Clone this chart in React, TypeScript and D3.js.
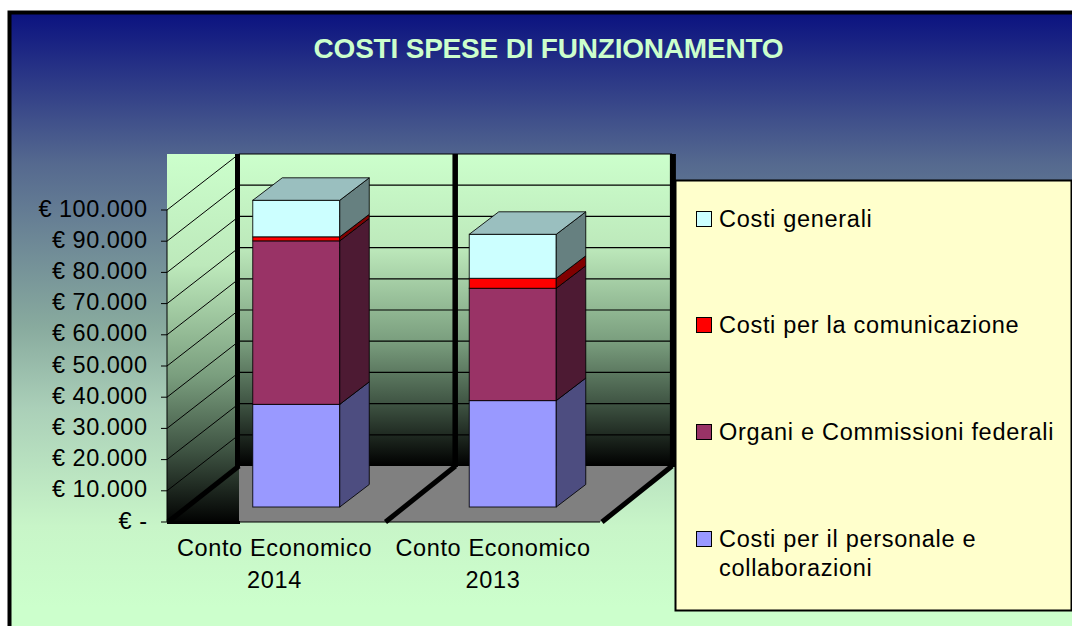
import React from 'react';
import * as d3 from 'd3';

const categories = ['2014', '2013'];
const categoryLines = [['Conto Economico', '2014'], ['Conto Economico', '2013']];
const seriesNames = ['Costi per il personale e', 'Organi e Commissioni federali', 'Costi per la comunicazione', 'Costi generali'];
const personale = [32900, 34100];
const organi = [52400, 36000];
const comunicazione = [1300, 3200];
const generali = [11700, 14100];
const frontColors = ['#9999ff', '#993366', '#ff0000', '#ccffff'];
const sideColors = ['#4d4d80', '#4d1a33', '#800000', '#668080'];
const topColor = '#9abfbf';
const yTicks = [0, 10000, 20000, 30000, 40000, 50000, 60000, 70000, 80000, 90000, 100000];
const yLabels = ['€ -', '€ 10.000', '€ 20.000', '€ 30.000', '€ 40.000', '€ 50.000', '€ 60.000', '€ 70.000', '€ 80.000', '€ 90.000', '€ 100.000'];
const legendOrder = [3, 2, 1, 0];

const font = '"Liberation Sans", Arial, sans-serif';
const W = 1072, H = 626;
const y = d3.scaleLinear().domain([0, 100000]).range([522, 210]);
const x = d3.scaleBand<string>().domain(categories).range([167, 600]).paddingInner(0).paddingOuter(0);
const DX = 72, DY = -56; // wall depth
const barDX0 = 21, barDY0 = -15, barDX = 29.5, barDY = -22.5, barW = 87;
const pts = (a: number[][]) => a.map(p => p.join(',')).join(' ');

export default function App() {
  const stackGen = d3.stack<number>().keys(['0', '1', '2', '3']).value((i, k) => [personale, organi, comunicazione, generali][+k][i]);
  const stacked = stackGen([0, 1]);
  const backTop = y(100000) + DY;
  const backBot = y(0) + DY;
  const backL = 167 + DX;
  const backR = x.range()[1] + DX;
  const lineGen = d3.line();
  return (
    <svg width={W} height={H} style={{ position: 'absolute', left: 0, top: 0, display: 'block' }}>
      <defs>
        <linearGradient id="bg" x1="0" y1="0" x2="0" y2="1">
          <stop offset="0" stopColor="#0b1280" />
          <stop offset="0.24" stopColor="#55698f" />
          <stop offset="0.5" stopColor="#88aa9e" />
          <stop offset="0.63" stopColor="#aacfb8" />
          <stop offset="0.82" stopColor="#c8f5c8" />
          <stop offset="0.95" stopColor="#ccffcc" />
        </linearGradient>
        <linearGradient id="wall" x1="0" y1="0" x2="0" y2="1">
          <stop offset="0" stopColor="#ccffcc" />
          <stop offset="0.3" stopColor="#bde9bb" />
          <stop offset="0.6" stopColor="#7a9e7e" />
          <stop offset="0.8" stopColor="#3f5443" />
          <stop offset="1" stopColor="#000000" />
        </linearGradient>
      </defs>
      <rect x={0} y={0} width={W} height={H} fill="#fff" />
      <rect x={9} y={13} width={W} height={H} fill="url(#bg)" />
      <path d={`M9.5 ${H}V12.5H${W}`} fill="none" stroke="#000" strokeWidth={4} />

      <text x={548.5} y={58} textAnchor="middle" fontFamily={font} fontSize={28} fontWeight="bold" fill="#ccffcc" letterSpacing={-0.2}>COSTI SPESE DI FUNZIONAMENTO</text>

      {/* walls */}
      <rect x={167} y={backTop} width={DX + 1} height={y(0) + 2 - backTop} fill="url(#wall)" />
      <rect x={backL} y={backTop} width={backR - backL} height={backBot - backTop} fill="url(#wall)" />
      <polygon points={pts([[backL, backBot], [backR, backBot], [x.range()[1], y(0)], [backL, y(0)]])} fill="#808080" />
      {/* grid */}
      {yTicks.map(t => (
        <g key={t}>
          {t > 0 && <line x1={backL} x2={backR} y1={y(t) + DY} y2={y(t) + DY} stroke="#000" strokeWidth={1.2} />}
          <line x1={167} x2={backL} y1={y(t)} y2={y(t) + DY} stroke="#000" strokeWidth={1} />
          <line x1={161} x2={167} y1={y(t)} y2={y(t)} stroke="#000" strokeWidth={1} />
          <text x={147.5} y={y(t) + 6.5} textAnchor="end" fontFamily={font} fontSize={23.5} fill="#000" letterSpacing={0.5}>{yLabels[yTicks.indexOf(t)]}</text>
        </g>
      ))}
      <line x1={167} x2={167} y1={y(100000)} y2={y(0)} stroke="#000" strokeWidth={1} />
      <line x1={167} x2={x.range()[1]} y1={y(0)} y2={y(0)} stroke="#000" strokeWidth={1.2} />
      <rect x={167} y={y(0) - 1} width={DX + 1} height={3} fill="#000" />
      {/* thick wall dividers */}
      {[x.range()[0], x.range()[0] + x.bandwidth(), x.range()[1]].map((v, i) => (
        <g key={i}>
          <line x1={v + DX - 1.5 + i * 1.2} x2={v + DX - 1.5 + i * 1.2} y1={backTop} y2={backBot + 1} stroke="#000" strokeWidth={5 + i * 0.5} />
          <path d={lineGen([[v + 1 + (i ? 1 : 0), y(0)], [v + DX, backBot]]) || ''} stroke="#000" strokeWidth={5} fill="none" />
        </g>
      ))}
      {/* bars */}
      {categories.map((c, i) => {
        const cx = (x(c) as number) + x.bandwidth() / 2 + barDX0;
        const l = cx - barW / 2, r = cx + barW / 2;
        return (
          <g key={c} stroke="#000" strokeWidth={1} strokeOpacity={0.85}>
            {stacked.map((s, k) => {
              const y0 = y(s[i][0]) + barDY0, y1 = y(s[i][1]) + barDY0;
              return (
                <g key={k}>
                  <rect x={l} y={y1} width={barW} height={y0 - y1} fill={frontColors[k]} />
                  <polygon points={pts([[r, y0], [r + barDX, y0 + barDY], [r + barDX, y1 + barDY], [r, y1]])} fill={sideColors[k]} />
                </g>
              );
            })}
            {(() => {
              const t = y(stacked[3][i][1]) + barDY0;
              return <polygon points={pts([[l, t], [l + barDX, t + barDY], [r + barDX, t + barDY], [r, t]])} fill={topColor} />;
            })()}
          </g>
        );
      })}
      {/* category labels */}
      {categories.map((c, i) => (
        <g key={c}>
          {categoryLines[i].map((t, j) => (
            <text key={j} x={[274.5, 493][i]} y={556 + j * 32} textAnchor="middle" fontFamily={font} fontSize={23.5} fill="#000" letterSpacing={0.65}>{t}</text>
          ))}
        </g>
      ))}
      {/* legend */}
      <rect x={675.5} y={180.5} width={396} height={430} fill="#ffffcc" stroke="#000" strokeWidth={2} />
      {legendOrder.map((k, i) => {
        const sy = [211, 317, 424, 531][i];
        return (
          <g key={k}>
            <rect x={696.5} y={sy + 0.5} width={15} height={15} fill={frontColors[k]} stroke="#000" strokeWidth={1} />
            <text x={719} y={sy + 16} fontFamily={font} fontSize={23.5} fill="#000" letterSpacing={0.7}>{seriesNames[k]}</text>
            {k === 0 && <text x={719} y={sy + 45} fontFamily={font} fontSize={23.5} fill="#000" letterSpacing={0.7}>collaborazioni</text>}
          </g>
        );
      })}
    </svg>
  );
}
